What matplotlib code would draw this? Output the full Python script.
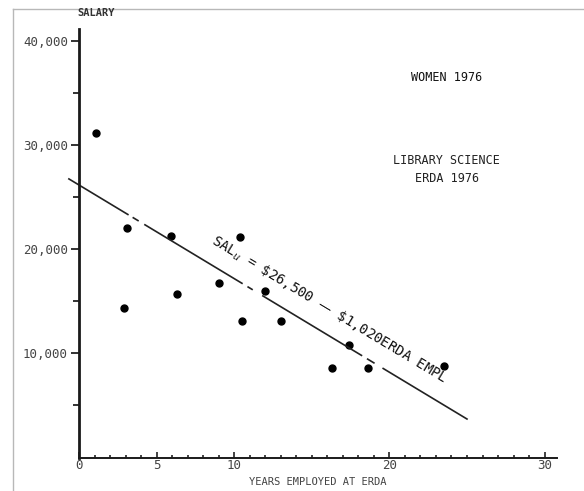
#!/usr/bin/env python3
"""Salary vs years employed at ERDA, women in library science (1976 scan)."""
import matplotlib
matplotlib.use("Agg")
import matplotlib.pyplot as plt
from matplotlib.lines import Line2D

# scatter points (years, dollars)
years = [1.1, 3.1, 2.9, 5.9, 6.3, 9.0, 10.4, 10.5, 12.0, 13.0, 17.4, 16.3, 18.6, 23.5]
salary = [31200, 22100, 14400, 21300, 15700, 16750, 21200, 13150, 16000, 13100,
          10800, 8600, 8600, 8800]

# fitted line as drawn: intercept / slope
fit_b0 = 26200
fit_b1 = -900
# the hand-drawn line has breaks; x-ranges of the inked pieces
fit_pieces = [(-0.65, 3.15), (3.5, 3.8), (4.25, 10.5), (10.9, 11.15),
              (11.85, 18.2), (18.6, 19.0), (19.6, 25.0)]

xtick_vals = [0, 5, 10, 20, 30]
ytick_vals = [10000, 20000, 30000, 40000]
ytick_labels = ["10,000", "20,000", "30,000", "40,000"]

MONO = "DejaVu Sans Mono"
W, H = 584, 491

fig = plt.figure(figsize=(W / 100, H / 100), dpi=100)
ax = fig.add_axes([79 / W, (H - 457.5) / H, (557 - 79) / W, 428.5 / H])
ax.set_xlim(0, 30.8)
ax.set_ylim(0, 41200)

for s in ("top", "right"):
    ax.spines[s].set_visible(False)
ax.spines["left"].set_linewidth(2.0)
ax.spines["left"].set_color("#1a1a1a")
ax.spines["bottom"].set_linewidth(1.4)
ax.spines["bottom"].set_color("#1a1a1a")

ax.plot(years, salary, "o", color="black", ms=5, mec="black", clip_on=False)

for x0, x1 in fit_pieces:
    ax.plot([x0, x1], [fit_b0 + fit_b1 * x0, fit_b0 + fit_b1 * x1], "-",
            color="#222222", lw=1.2, clip_on=False)

ax.text(16.1, 14200, "SAL$_u$ = \\$26,500 \u2014 \\$1,020ERDA EMPL", rotation=-31,
        rotation_mode="anchor", ha="center", va="center", fontsize=10,
        family=MONO, color="#111111")

ax.text(23.7, 36550, "WOMEN 1976", ha="center", va="center", fontsize=8.5,
        family=MONO, color="#111111")
ax.text(23.7, 28600, "LIBRARY SCIENCE", ha="center", va="center", fontsize=8.5,
        family=MONO, color="#222222")
ax.text(23.7, 26800, "ERDA 1976", ha="center", va="center", fontsize=8.5,
        family=MONO, color="#222222")

ax.set_xticks(xtick_vals)
ax.set_xticklabels([str(v) for v in xtick_vals], family=MONO, fontsize=9, color="#444444")
ax.set_xticks(range(0, 31), minor=True)
ax.tick_params(axis="x", which="major", direction="in", length=4, width=1.2, pad=1,
               color="#222222")
ax.tick_params(axis="x", which="minor", direction="in", length=2.5, width=1.2,
               color="#222222")

ax.set_yticks(ytick_vals)
ax.set_yticklabels(ytick_labels, family=MONO, fontsize=9, color="#444444")
ax.set_yticks([5000, 15000, 25000, 35000], minor=True)
ax.tick_params(axis="y", which="major", direction="out", length=6, width=1.3, pad=2,
               color="#222222")
ax.tick_params(axis="y", which="minor", direction="out", length=4, width=1.3,
               color="#222222")

ax.set_xlabel("YEARS EMPLOYED AT ERDA", family=MONO, fontsize=7.5, color="#444444")
ax.xaxis.set_label_coords((318 - 79) / (557 - 79), -(477 - 457.5) / 428.5)

fig.text(96 / W, 1 - 13 / H, "SALARY", ha="center", va="center", fontsize=7.5,
         family=MONO, color="#333333", fontweight="bold")

# gray scan frame
fig.add_artist(Line2D([13 / W, 1], [1 - 9 / H, 1 - 9 / H], color="#b8b8b8", lw=1))
fig.add_artist(Line2D([13 / W, 13 / W], [0, 1 - 9 / H], color="#b8b8b8", lw=1))

fig.savefig("out.png", dpi=100)
